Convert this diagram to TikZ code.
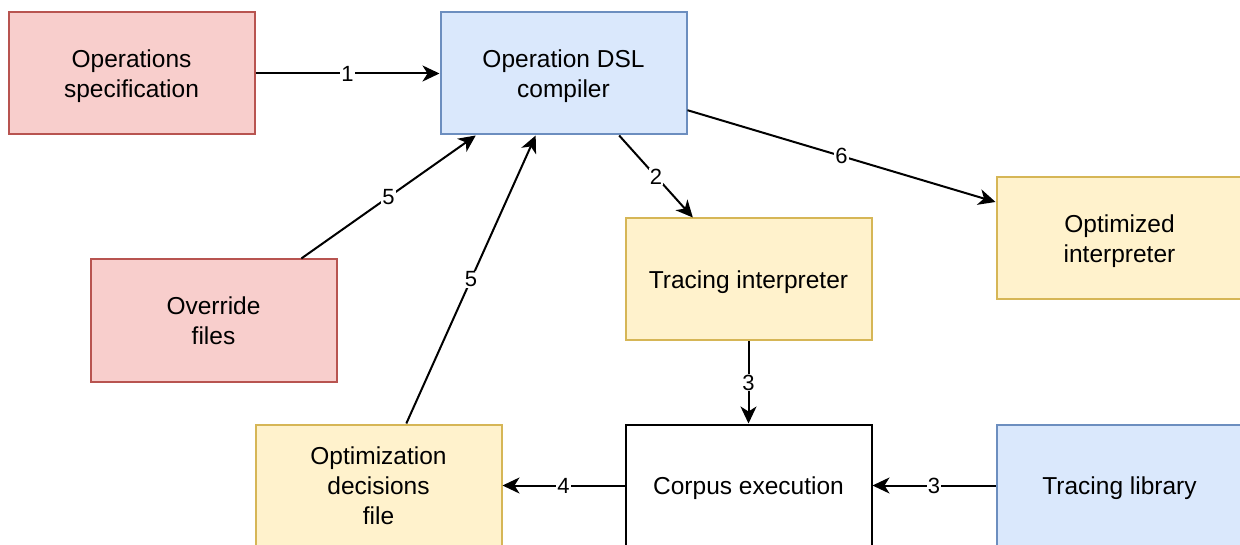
\documentclass[tikz,border=0pt]{standalone}
\usepackage{fontspec}
\setmainfont{Liberation Sans}
\usetikzlibrary{arrows.meta}

\definecolor{redfill}{HTML}{F8CECC}
\definecolor{redline}{HTML}{B85450}
\definecolor{bluefill}{HTML}{DAE8FC}
\definecolor{blueline}{HTML}{6C8EBF}
\definecolor{yellowfill}{HTML}{FFF2CC}
\definecolor{yellowline}{HTML}{D6B656}

\begin{document}
\begin{tikzpicture}[x=1pt,y=-1pt,
  line width=2pt,main node/.style={rectangle,draw,minimum width=246pt,minimum height=122pt,
    inner sep=0pt,text depth=0pt,align=center,font=\fontsize{24.5}{30}\selectfont},
  red node/.style={main node,fill=redfill,draw=redline},
  blue node/.style={main node,fill=bluefill,draw=blueline},
  yellow node/.style={main node,fill=yellowfill,draw=yellowline}]

  \useasboundingbox (0,0) rectangle (1240,545);
  \clip (0,0) rectangle (1240,545);

  \node[red node] (0) at (131.5,73.5) {Operations\\specification};
  \node[blue node] (1) at (563.5,73.5) {Operation DSL\\compiler};
  \node[red node] (2) at (213.5,320.5) {Override\\files};
  \node[yellow node] (3) at (748.5,279.5) {Tracing interpreter};
  \node[yellow node] (4) at (1119.5,238.5) {Optimized\\interpreter};
  \node[yellow node] (5) at (378.5,485.5) {Optimization\\decisions\\file};
  \node[main node] (6) at (748.5,485.5) {Corpus execution};
  \node[blue node] (7) at (1119.5,485.5) {Tracing library};

  \path[every edge/.style={draw,-{Stealth[length=17pt,width=16pt,inset=5pt]}},
    every node/.style={fill=white,inner sep=1pt,font=\fontsize{22}{26}\selectfont}]
  (0) edge node{1} (1)
  (1) edge node{2} (3)
  (2) edge node{5} (1)
  (5) edge node{5} (1)
  (3) edge node{3} (6)
  (7) edge node{3} (6)
  (6) edge node{4} (5)
  (1) edge node{6} (4);
\end{tikzpicture}
\end{document}
